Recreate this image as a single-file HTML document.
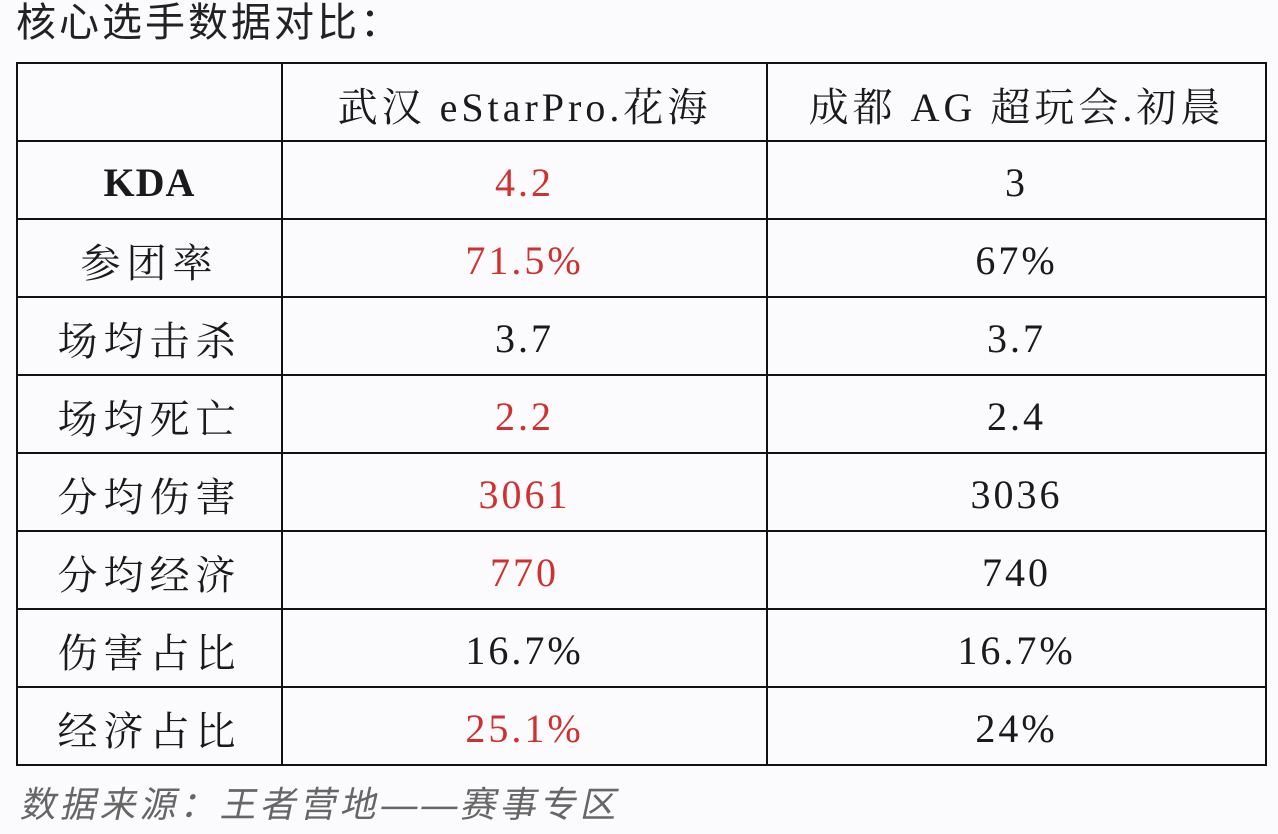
<!DOCTYPE html>
<html><head><meta charset="utf-8"><style>
html,body{margin:0;padding:0;width:1278px;height:834px;background:#fbfbfd;overflow:hidden;position:relative}
.title{position:absolute;left:16px;top:0px;font:40px "Liberation Sans","Noto Sans CJK SC",sans-serif;color:#222;line-height:46px;letter-spacing:3px}
.foot{position:absolute;left:22px;top:782px;font:36px "Liberation Sans","Noto Sans CJK SC",sans-serif;color:#666;line-height:46px;letter-spacing:4px;transform:skewX(-12deg);transform-origin:left}
table{position:absolute;left:16px;top:62px;border-collapse:collapse}
td{border:2px solid #111;height:78px;padding:4px 0 0 0;box-sizing:border-box;text-align:center;font:40px "Liberation Serif","Noto Serif CJK SC",serif;color:#1a1a1a;letter-spacing:3px}
td.a{width:265px;letter-spacing:6px}td.b{width:485px}td.c{width:499px}
tr:first-child td{letter-spacing:4px}
.r{color:#d03030}
.k{font-weight:bold;font-family:"Liberation Serif",serif;letter-spacing:1px!important}
</style></head><body>
<div class="title">核心选手数据对比：</div>
<table>
<tr><td class="a"></td><td class="b">武汉 eStarPro.花海</td><td class="c">成都 AG 超玩会.初晨</td></tr>
<tr><td class="a k">KDA</td><td class="b r">4.2</td><td class="c">3</td></tr>
<tr><td class="a">参团率</td><td class="b r">71.5%</td><td class="c">67%</td></tr>
<tr><td class="a">场均击杀</td><td class="b">3.7</td><td class="c">3.7</td></tr>
<tr><td class="a">场均死亡</td><td class="b r">2.2</td><td class="c">2.4</td></tr>
<tr><td class="a">分均伤害</td><td class="b r">3061</td><td class="c">3036</td></tr>
<tr><td class="a">分均经济</td><td class="b r">770</td><td class="c">740</td></tr>
<tr><td class="a">伤害占比</td><td class="b">16.7%</td><td class="c">16.7%</td></tr>
<tr><td class="a">经济占比</td><td class="b r">25.1%</td><td class="c">24%</td></tr>
</table>
<div class="foot">数据来源：王者营地——赛事专区</div>
</body></html>
